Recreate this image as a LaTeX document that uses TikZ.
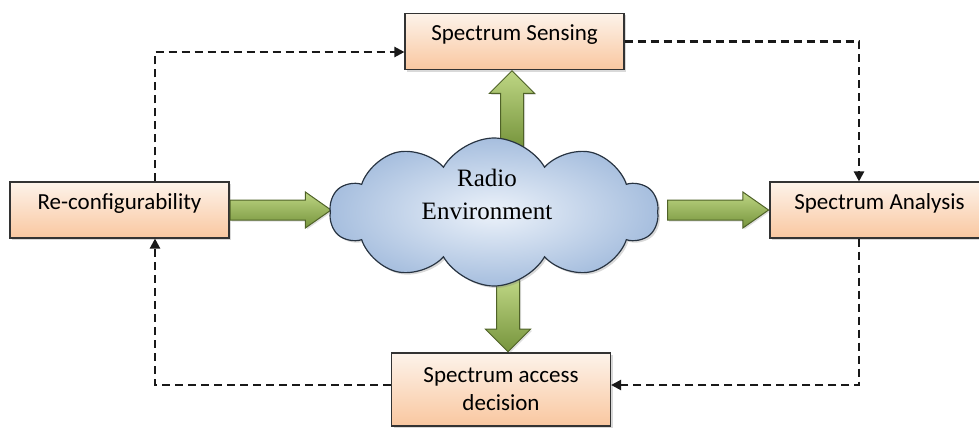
\documentclass[tikz,border=0pt]{standalone}
\usepackage{fontspec}
\setmainfont{Carlito}
\newfontfamily\radiofont{Liberation Serif}
\usetikzlibrary{positioning,shapes.symbols,shapes.arrows,arrows.meta,shadows}

\definecolor{boxtop}{RGB}{253,243,234}
\definecolor{boxbot}{RGB}{249,199,160}
\definecolor{cloudin}{RGB}{236,242,250}
\definecolor{cloudout}{RGB}{166,190,222}
\definecolor{cloudline}{RGB}{40,52,66}
\definecolor{arrowlight}{RGB}{190,214,132}
\definecolor{arrowmid}{RGB}{156,190,90}
\definecolor{arrowdark}{RGB}{118,148,60}
\definecolor{arrowline}{RGB}{79,98,40}

\begin{document}
\begin{tikzpicture}[x=1pt,y=-1pt,%
  % common options for the boxes:
  block/.style = {draw=black!80, line width=1.1pt, top color=boxtop,
              bottom color=boxbot, minimum width=219pt, minimum height=56pt,
              align=center, inner sep=0, font=\fontsize{23}{28}\selectfont,
              drop shadow={opacity=0.3,shadow xshift=2pt,shadow yshift=-2pt}},
  % boxes with one line, text sits a bit high:
  oneline/.style = {block, text height=16pt, text depth=17pt},
  % common options for the green arrows:
  fat/.style = {single arrow, draw=arrowline, line width=1pt,
              top color=arrowlight, middle color=arrowmid, bottom color=arrowdark,
              drop shadow={opacity=0.25,shadow xshift=1.5pt,shadow yshift=-1.5pt}},
  upright/.style = {fat, inner sep=11pt, single arrow head extend=11pt,
              single arrow tip angle=90},
  sideways/.style = {fat, inner sep=9.5pt, single arrow head extend=8pt,
              single arrow tip angle=70},
  % dashed feedback lines:
  dashline/.style = {draw=black!90, dash pattern=on 8pt off 5pt, line width=2.2pt,
              -{Triangle[length=10pt,width=10pt]}}]

\path[use as bounding box, clip] (0,0) rectangle (979,428);

% the four boxes
\node[oneline] (sense) at (514.5,41.5) {Spectrum Sensing};
\node[oneline] (reconf) at (119.5,210) {Re-configurability};
\node[oneline] (analysis) at (879.5,210) {Spectrum Analysis};
\node[block,minimum height=73pt] (access) at (501,389.5) {Spectrum access\\decision};

% green arrows round the cloud
\node[upright, rotate=90, minimum height=77pt, anchor=tip] (up)
   at ([xshift=-2.5pt]sense.south) {};
\node[upright, rotate=-90, minimum height=72pt, anchor=tip] (down)
   at ([xshift=7pt]access.north) {};
\node[sideways, minimum height=101pt, anchor=tail] (toenv) at (reconf.east) {};
\node[sideways, minimum height=101pt, anchor=tip] (fromenv) at (analysis.west) {};

% the radio environment cloud
\node[cloud, cloud puffs=10, cloud puff arc=120, aspect=2.3, minimum width=328pt,
   minimum height=148pt, draw=cloudline, line width=1.2pt, inner color=cloudin,
   outer color=cloudout, drop shadow={opacity=0.3,shadow xshift=2pt,shadow yshift=-2pt}]
   (cloud) at (494,212) {};
\node[font=\radiofont\fontsize{25}{33}\selectfont, align=center] (radio)
   at (487,194) {Radio\\Environment};

% dashed loop between the boxes
\draw[dashline] ([xshift=35.5pt]reconf.north) |- ([yshift=-10.5pt]sense.west);
\draw[dashline] (sense.east) -| ([xshift=-20.5pt]analysis.north);
\draw[dashline] ([xshift=-20.5pt]analysis.south) |- ([yshift=4.5pt]access.east);
\draw[dashline] ([yshift=4.5pt]access.west) -| ([xshift=35.5pt]reconf.south);
\end{tikzpicture}
\end{document}
